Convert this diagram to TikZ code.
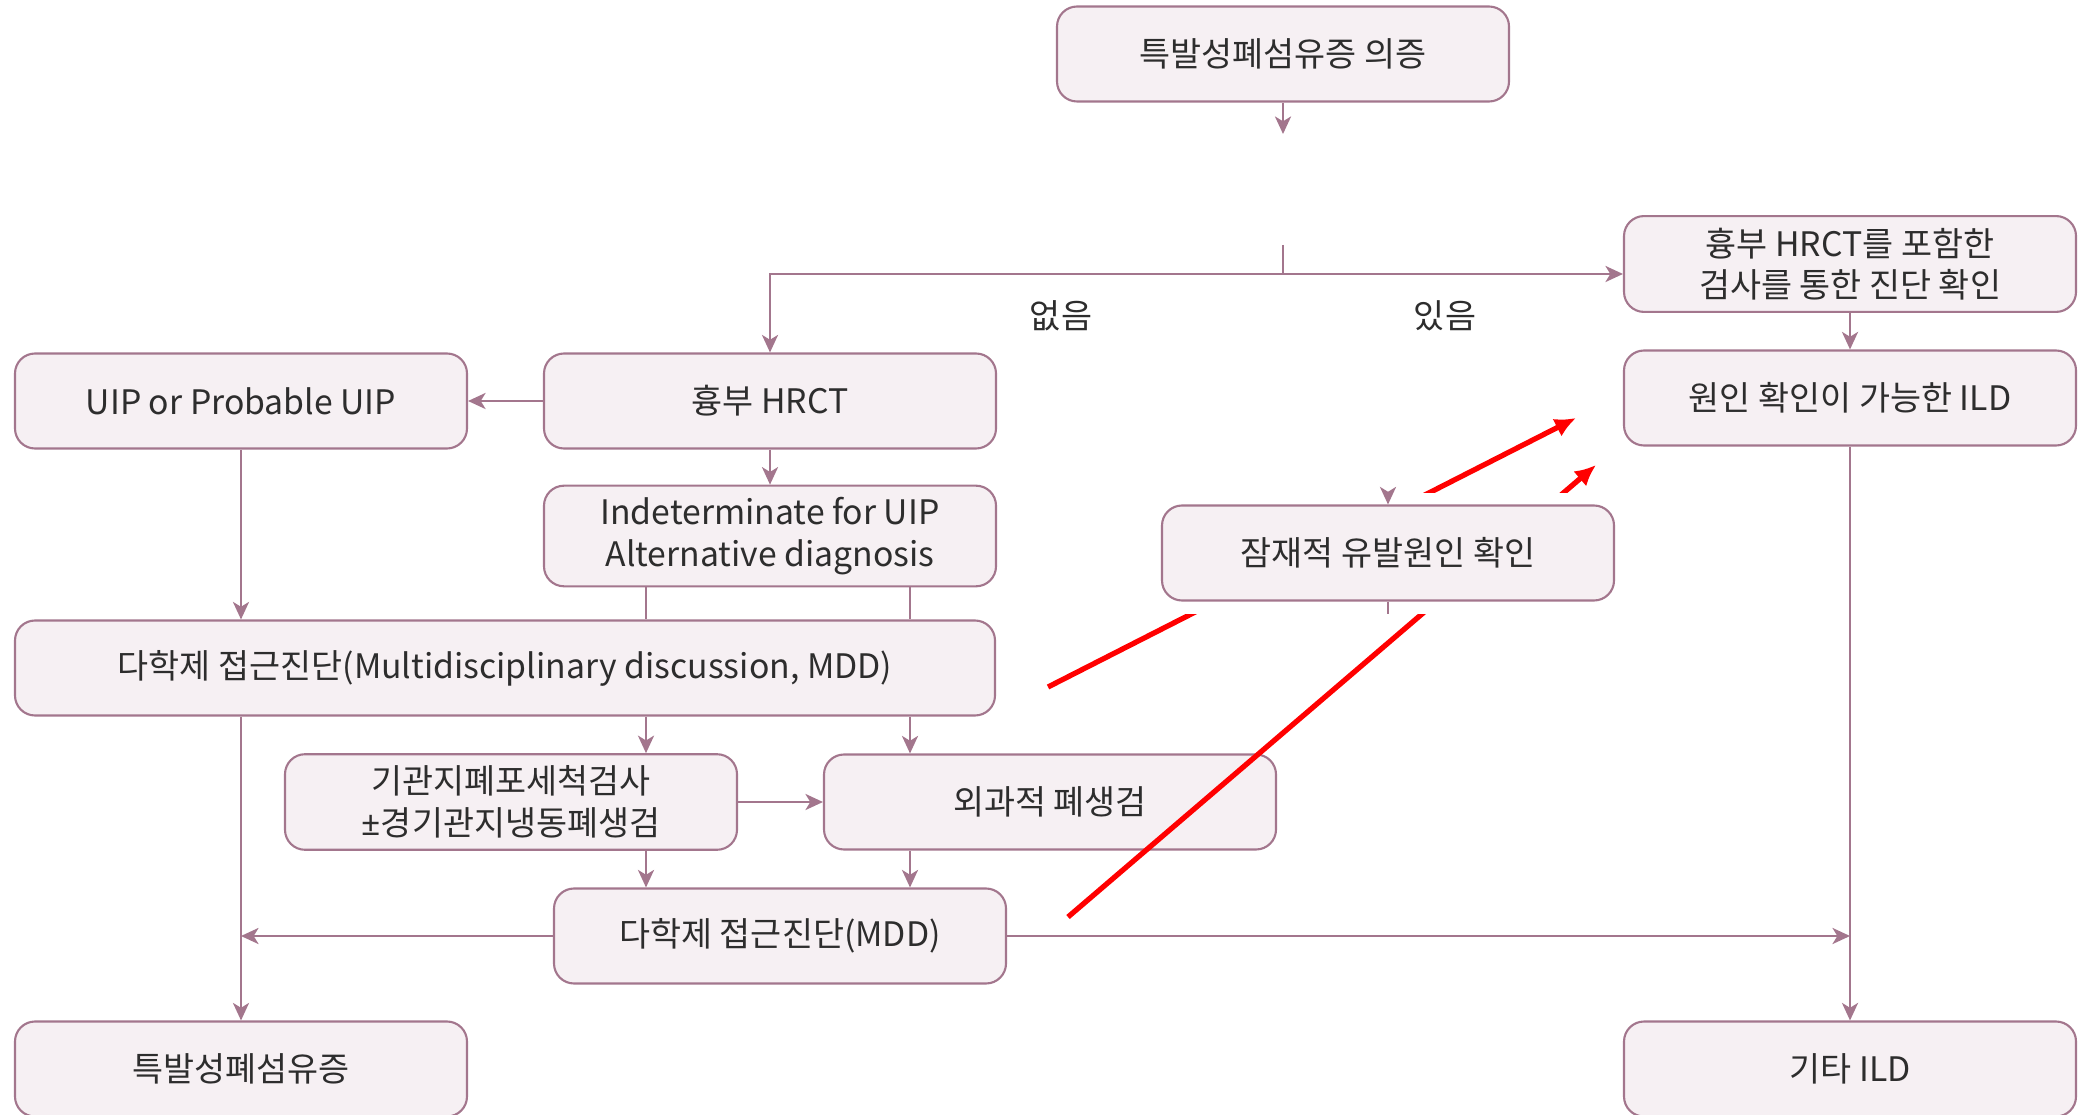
\documentclass[tikz,border=0pt]{standalone}
\usepackage{fontspec}
\setmainfont{Noto Sans CJK KR}
\newfontfamily\latinfont{Noto Sans}
\usetikzlibrary{arrows.meta}

\definecolor{boxline}{RGB}{163,118,141}
\definecolor{boxfill}{RGB}{246,240,243}
\definecolor{textgray}{RGB}{45,45,45}

\begin{document}
\begin{tikzpicture}

\tikzset{box/.style = {shape=rectangle, rounded corners=0.2cm, draw=boxline, line width=0.6pt, fill=boxfill, text=textgray, minimum width=4.52cm, minimum height=0.95cm, align=center, font=\fontsize{9.6}{11.8}\selectfont}}
\tikzset{edge/.style = {-{Stealth[length=5pt,width=4.6pt,inset=1.4pt]}, draw=boxline, line width=0.6pt}}
\tikzset{plain/.style = {draw=boxline, line width=0.6pt}}
\tikzset{redarrow/.style = {-{Latex[length=6pt,width=5.6pt]}, draw=red, line width=1.5pt}}
\tikzset{lbl/.style = {text=textgray, font=\fontsize{9.6}{11.8}\selectfont}}

\useasboundingbox (0,0) rectangle (20.79,-11.15);

%boxes
\node[box] (susp) at (12.83,-0.54) {특발성폐섬유증 의증};
\node[box] (conf) at (18.50,-2.64) {흉부 HRCT를 포함한\\검사를 통한 진단 확인};
\node[box] (cause) at (18.50,-3.98) {원인 확인이 가능한 ILD};
\node[box] (hrct) at (7.70,-4.01) {흉부 HRCT};
\node[box] (uip) at (2.41,-4.01) {UIP or Probable UIP};
\node[box] (indet) at (7.70,-5.36) {Indeterminate for UIP\\Alternative diagnosis};
\node[box, minimum width=9.80cm] (mdd) at (5.05,-6.68) {다학제 접근진단(Multidisciplinary discussion, MDD)};
\node[box] (bal) at (5.11,-8.02) {기관지폐포세척검사\\{\latinfont ±}경기관지냉동폐생검};
\node[box] (surg) at (10.50,-8.02) {외과적 폐생검};
\node[box] (mdd2) at (7.80,-9.36) {다학제 접근진단(MDD)};
\node[box] (ipf) at (2.41,-10.69) {특발성폐섬유증};
\node[box] (other) at (18.50,-10.69) {기타 ILD};

%labels
\node[lbl] (none) at (10.61,-3.16) {없음};
\node[lbl] (has) at (14.45,-3.16) {있음};

%branch
\coordinate (split) at (12.83,-1.34);
\coordinate (forktop) at (12.83,-2.45);
\coordinate (fork) at (12.83,-2.74);
\coordinate (colA) at (6.46,-7.0);
\coordinate (colB) at (9.10,-7.0);
\draw [edge] (susp.south) -- (split);
\draw [plain] (forktop) -- (fork);
\draw [edge] (fork) -- (fork -| conf.west);
\draw [edge] (fork) -| (hrct.north);

%edges
\draw [edge] (hrct.west) -- (uip.east);
\draw [edge] (hrct) -- (indet);
\draw [edge] (uip.south) -- (uip |- mdd.north);
\draw [plain] (indet.south -| colA) -- (mdd.north -| colA);
\draw [plain] (indet.south -| colB) -- (mdd.north -| colB);
\draw [edge] (mdd.south -| colA) -- (bal.north -| colA);
\draw [edge] (mdd.south -| colB) -- (surg.north -| colB);
\draw [edge] (bal) -- (surg);
\draw [edge] (bal.south -| colA) -- (mdd2.north -| colA);
\draw [edge] (surg.south -| colB) -- (mdd2.north -| colB);
\draw [edge] (mdd.south -| ipf.north) -- (ipf.north);
\draw [edge] (mdd2.west) -- (mdd2.west -| ipf.north);
\draw [edge] (mdd2.east) -- (mdd2.east -| other.north);
\draw [edge] (conf) -- (cause);
\draw [edge] (cause) -- (other);

%red marks
\coordinate (r1a) at (10.48,-6.87);
\coordinate (r1b) at (15.76,-4.18);
\coordinate (r2a) at (10.68,-9.17);
\coordinate (r2b) at (15.96,-4.65);
\draw [redarrow] (r1a) -- (r1b);
\draw [redarrow] (r2a) -- (r2b);

%pasted box over the marks
\fill [white] (11.52,-4.93) rectangle (16.22,-6.14);
\node[box] (pot) at (13.88,-5.53) {잠재적 유발원인 확인};
\draw [edge] ([yshift=0.1cm]pot.north) -- (pot.north);
\draw [plain] (pot.south) -- ++(0,-0.12);

\end{tikzpicture}
\end{document}
